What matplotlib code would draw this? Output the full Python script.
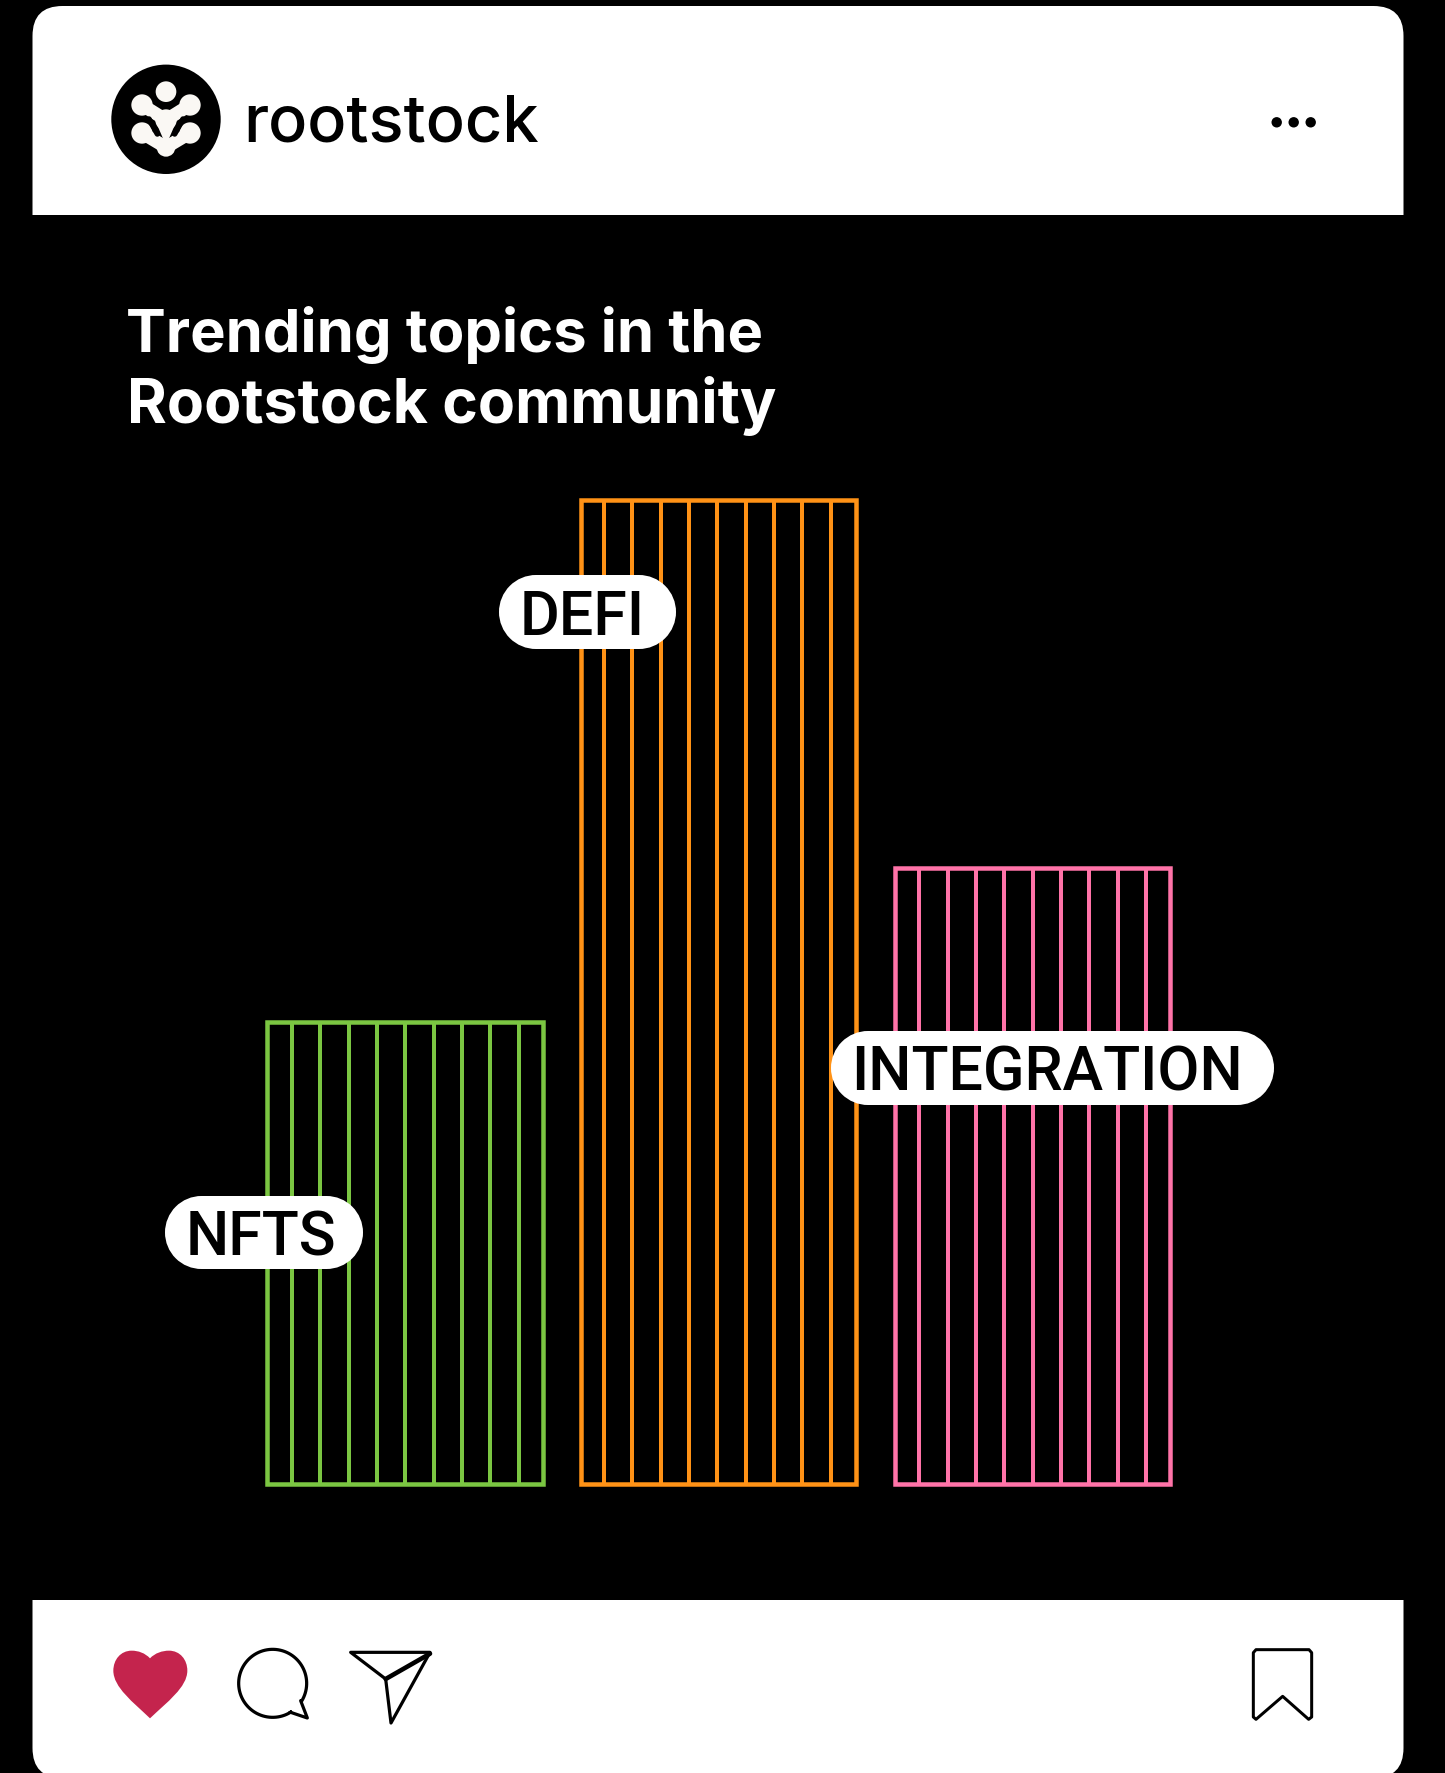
import numpy as np
import matplotlib
matplotlib.use('Agg')
import matplotlib.pyplot as plt
from matplotlib.patches import FancyBboxPatch, Circle, Rectangle, PathPatch, Polygon
from matplotlib.path import Path

# chart data (relative heights)
topics = ['NFTS', 'DEFI', 'INTEGRATION']
values = [462, 984, 616]
colors = ['#7BC642', '#FF9216', '#FF73A8']

# where each white label sits, in image pixels: left, right, top, bottom, text x, baseline, font px
label_boxes = [(165, 363, 1197, 1270, 186, 1256, 61),
               (499, 676, 576, 650, 520, 635, 61),
               (831, 1274, 1032, 1106, 851, 1091, 61)]
# gap from bar edge to first inner line, pixels
hatch_start = [24.7, 23.0, 24.5]

W, H = 1445, 1774
DPI = 100
PX = 72 / DPI

fig = plt.figure(figsize=(W / DPI, H / DPI), dpi=DPI, facecolor='black')

# pixel axes for the card around the chart
base = fig.add_axes([0, 0, 1, 1], zorder=0)
base.set_xlim(0, W)
base.set_ylim(H, 0)
base.axis('off')

base.add_patch(FancyBboxPatch((32.5, 7), 1371, 1772, boxstyle='round,pad=0,rounding_size=30',
                              fc='white', ec='none'))
base.add_patch(Rectangle((32, 216), 1373, 1385, fc='black', ec='none'))

# logo
def lx(v):
    return 80 + v / 3
def ly(v):
    return 40 + v / 3

CREAM = '#FAF8F4'
base.add_patch(Circle((166, 120.3), 54.7, fc='black', ec='none'))
for cx, cy, r in [(258, 158, 31), (186, 198, 32), (330, 198, 32), (186, 282, 32),
                  (330, 282, 32), (258, 243, 32), (258, 325, 28)]:
    base.add_patch(Circle((lx(cx), ly(cy)), r / 3, fc=CREAM, ec='none', zorder=3))
for a, b in [((186, 198), (258, 243)), ((330, 198), (258, 243)),
             ((186, 282), (258, 325)), ((330, 282), (258, 325))]:
    base.plot([lx(a[0]), lx(b[0])], [ly(a[1]), ly(b[1])], color=CREAM, lw=13 * PX,
              solid_capstyle='round', zorder=3)
base.add_patch(Polygon([(lx(a), ly(b)) for a, b in [(226, 245), (290, 245), (262, 310), (254, 310)]],
                       fc=CREAM, ec='none', zorder=3))
for a, b in [((207, 240), (232, 285)), ((309, 240), (284, 285))]:
    base.plot([lx(a[0]), lx(b[0])], [ly(a[1]), ly(b[1])], color='black', lw=5.5 * PX,
              solid_capstyle='round', zorder=4)

base.text(243, 142, 'rootstock', family='Inter', fontweight='medium', fontsize=65 * PX,
          color='black', va='baseline')

for x in [1276.7, 1293.7, 1310.7]:
    base.add_patch(Circle((x, 123.3), 5.2, fc='black', ec='none'))

# title
base.text(126, 352, 'Trending topics in the', family='Inter', fontweight='bold',
          fontsize=59.7 * PX, color='white', va='baseline')
base.text(127, 423, 'Rootstock community', family='Inter', fontweight='bold',
          fontsize=60.7 * PX, color='white', va='baseline')

# bottom icons
def ix(v):
    return 80 + v / 3
def iy(v):
    return 1620 + v / 3

heart_pts = [(210, 118), (195, 102), (175, 95), (155, 95),
             (122, 95), (100, 122), (100, 155),
             (100, 205), (160, 250), (210, 298),
             (260, 250), (322, 205), (322, 155),
             (322, 122), (300, 95), (267, 95),
             (247, 95), (225, 102), (210, 118)]
heart = Path([(ix(a), iy(b)) for a, b in heart_pts], [Path.MOVETO] + [Path.CURVE4] * 18)
base.add_patch(PathPatch(heart, fc='#C4244D', ec='none'))

a0 = np.arctan2(87, 54)
a1 = np.arctan2(52, 84) + 2 * np.pi
t = np.linspace(a0, a1, 90)
bx = list(ix(578 + 102 * np.cos(t))) + [ix(662), ix(682), ix(632)]
by = list(iy(193 + 102 * np.sin(t))) + [iy(245), iy(297), iy(280)]
base.plot(bx + bx[:1], by + by[:1], color='black', lw=3.2 * PX, solid_joinstyle='round')

base.add_patch(Polygon([(ix(812), iy(100)), (ix(1050), iy(100)), (ix(933), iy(312)), (ix(917), iy(180))],
                       closed=True, fc='none', ec='black', lw=3.2 * PX, joinstyle='round'))
base.plot([ix(917), ix(1050)], [iy(180), iy(104)], color='black', lw=4.6 * PX, solid_capstyle='round')

mark = [(100, 101), (108, 92), (267, 92), (275, 101), (275, 294), (266, 301), (188, 232),
        (108, 301), (100, 294)]
base.add_patch(Polygon([(1220 + a / 3, 1620 + b / 3) for a, b in mark], closed=True, fc='none',
                       ec='black', lw=3 * PX, joinstyle='round'))

# the bars
left, right = 248.1, 1189.4
y0, y1 = 1485, 485
chart = fig.add_axes([left / W, (H - y0) / H, (right - left) / W, (y0 - y1) / H], zorder=1)
chart.patch.set_alpha(0)
chart.set_xlim(-0.5, 2.5)
chart.set_ylim(0, 1000)
chart.axis('off')

xbar = range(len(topics))
bar_w = 0.8776
chart.bar(xbar, values, width=bar_w, facecolor='none', edgecolor=colors, linewidth=4.5 * PX, clip_on=False)

# nine inner lines per bar
step = 0.1029
for i in xbar:
    first = hatch_start[i] / 275.3
    xs = [i - bar_w / 2 + (first + k * step) * bar_w for k in range(9)]
    chart.vlines(xs, 0, values[i], color=colors[i], linewidth=4.0 * PX)

# labels on top of everything
over = fig.add_axes([0, 0, 1, 1], zorder=2)
over.patch.set_alpha(0)
over.set_xlim(0, W)
over.set_ylim(H, 0)
over.axis('off')

for name, (x0, x1, top, bottom, tx, base_y, size) in zip(topics, label_boxes):
    r = (bottom - top) / 2
    over.add_patch(Rectangle((x0 + r, top), x1 - x0 - 2 * r, bottom - top, fc='white', ec='none'))
    over.add_patch(Circle((x0 + r, top + r), r, fc='white', ec='none'))
    over.add_patch(Circle((x1 - r, top + r), r, fc='white', ec='none'))
    over.text(tx, base_y, name, family='Roboto', fontweight='medium', fontsize=size * PX,
              color='black', ha='left', va='baseline')

fig.savefig('out.png', dpi=DPI, facecolor='black')
